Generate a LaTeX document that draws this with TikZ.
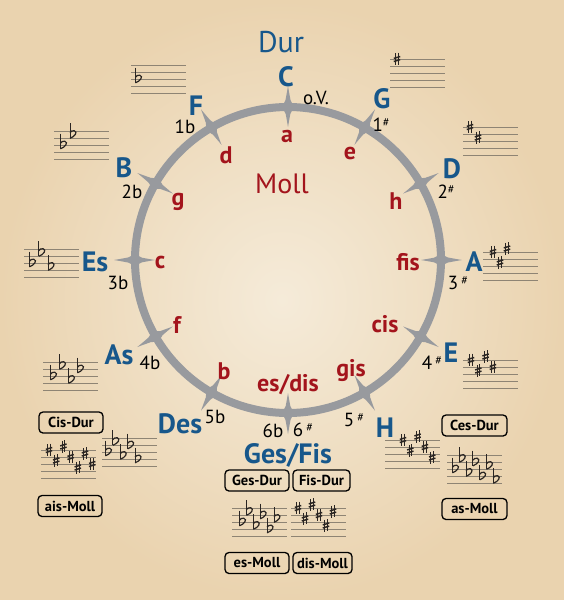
\documentclass[tikz,border=0pt]{standalone}
\usepackage{fontspec}
\setmainfont{PT Sans}
\definecolor{bgin}{HTML}{F5EBD9}
\definecolor{bgout}{HTML}{EAD3AF}
\definecolor{durc}{HTML}{17578B}
\definecolor{mollc}{HTML}{A3141C}
\definecolor{ringc}{HTML}{989A9E}
\definecolor{staffc}{HTML}{8E8474}
\definecolor{accc}{HTML}{2A2522}
\tikzset{
  durl/.style={text=durc, font=\bfseries\fontsize{28}{28}\selectfont, inner sep=0pt},
  molll/.style={text=mollc, font=\bfseries\fontsize{24}{24}\selectfont, inner sep=0pt},
  cnt/.style={text=black, font=\fontsize{19}{19}\selectfont, inner sep=0pt},
  keybox/.style={draw=black, rounded corners=4pt, line width=1.3pt, font=\bfseries\fontsize{14.5}{14.5}\selectfont, minimum height=21pt, inner sep=2pt},
  shp/.pic={\draw[accc,line width=0.75pt] (-1.4,-5.6)--(-1.4,6.3) (1.4,-6.3)--(1.4,5.6);
            \draw[accc,line width=1.5pt] (-3.2,-0.6)--(3.2,-2.5) (-3.2,2.5)--(3.2,0.6);},
  flt/.pic={\draw[accc,line width=0.9pt] (-2.5,-11.5)--(-2.5,3.8);
            \draw[accc,line width=1.2pt] (-2.5,3.8) .. controls (2.5,2) and (5.5,-2.4) .. (1.8,-3.8) .. controls (0,-4.4) and (-1.8,-3) .. (-2.5,-1.8);}
}
\newcommand\mystaff[2]{\foreach \i in {0,...,4} \draw[staffc, line width=0.8pt] (#1,#2+7*\i) -- ++(55,0);}
\newcommand\sharpkey[5]{\mystaff{#1}{#2}
  \foreach \s [count=\k] in {0,3,-1,2,5,1,4} {\ifnum\k>#3\relax\else \pic at ({#4+#5*(\k-1)},{#2+3.5*\s}) {shp};\fi}}
\newcommand\flatkey[5]{\mystaff{#1}{#2}
  \foreach \s [count=\k] in {4,1,5,2,6,3,7} {\ifnum\k>#3\relax\else \pic at ({#4+#5*(\k-1)},{#2+3.5*\s}) {flt};\fi}}
\newcommand\shx{\raisebox{5pt}{\fontsize{12}{12}\selectfont\#}}
\begin{document}
\begin{tikzpicture}[x=1pt,y=-1pt]
\useasboundingbox (0,0) rectangle (564,600);
\shade[inner color=bgin, outer color=bgout] (0,0) rectangle (564,600);
% ring
\draw[ringc, line width=8pt] (288,260) circle[radius=153];
\begin{scope}[shift={(288,260)}]
\foreach \t [evaluate=\t as \a using \t-90] in {0,30,...,330}
  \fill[ringc] (\a:133) -- (\a+0.35:138) -- (\a+0.9:146) -- (\a+2.2:153) -- (\a+0.9:160) -- (\a+0.35:168) -- (\a:174) -- (\a-0.35:168) -- (\a-0.9:160) -- (\a-2.2:153) -- (\a-0.9:146) -- (\a-0.35:138) -- cycle;
\end{scope}
% titles
\node[text=durc, font=\fontsize{30}{30}\selectfont, inner sep=0pt] (dur) at (281,42) {Dur};
\node[text=mollc, font=\fontsize{28}{28}\selectfont, inner sep=0pt] (moll) at (282,184) {Moll};
% major
\node[durl] (C) at (286,77) {C};
\node[durl] (G) at (382,99) {G};
\node[durl] (D) at (452,169) {D};
\node[durl] (A) at (474,262) {A};
\node[durl] (E) at (451,353) {E};
\node[durl] (H) at (385,428) {H};
\node[durl] (GesFis) at (288,455) {Ges/Fis};
\node[durl] (Des) at (180,424) {Des};
\node[durl] (As) at (119,355) {As};
\node[durl] (Es) at (95,262) {Es};
\node[durl] (B) at (124,168) {B};
\node[durl] (F) at (196,106) {F};
% minor
\node[molll] (ma) at (287,136) {a};
\node[molll] (me) at (350,153) {e};
\node[molll] (mh) at (396,201) {h};
\node[molll] (mfis) at (408,262) {fis};
\node[molll] (mcis) at (385,324) {cis};
\node[molll] (mgis) at (351,371) {gis};
\node[molll] (mesdis) at (288,385) {es/dis};
\node[molll] (mb) at (224,371) {b};
\node[molll] (mf) at (177,325) {f};
\node[molll] (mc) at (160,262) {c};
\node[molll] (mg) at (178,202) {g};
\node[molll] (md) at (226,155) {d};
% counts
\node[cnt] (ov) at (316,98) {o.V.};
\node[cnt] (s1) at (381,125) {1\shx};
\node[cnt] (s2) at (446,192) {2\shx};
\node[cnt] (s3) at (458,283) {3\,\shx};
\node[cnt] (s4) at (432,363) {4\,\shx};
\node[cnt] (s5) at (354,420) {5\,\shx};
\node[cnt] (s6) at (303,430) {6\,\shx};
\node[cnt] (f6) at (273,431) {6b};
\node[cnt] (f5) at (215,417) {5b};
\node[cnt] (f4) at (150,363) {4b};
\node[cnt] (f3) at (118,283) {3b};
\node[cnt] (f2) at (132,192) {2b};
\node[cnt] (f1) at (185,127) {1b};
% staves
\flatkey{131}{65}{1}{138}{8}
\flatkey{54}{131}{2}{63}{9.5}
\flatkey{24}{249}{3}{32}{9.3}
\flatkey{43}{362}{4}{53}{9}
\flatkey{102}{438}{5}{108}{7.4}
\flatkey{232}{508}{6}{242}{6.9}
\flatkey{447}{455}{7}{455}{6.8}
\sharpkey{390}{59}{1}{397}{7.5}
\sharpkey{463}{127}{2}{470}{8}
\sharpkey{483}{252}{3}{493}{7}
\sharpkey{463}{360}{4}{471}{7.3}
\sharpkey{385}{440}{5}{403}{7.3}
\sharpkey{291}{508}{6}{298}{7}
\sharpkey{41}{450}{7}{49}{7.2}
% boxes
\node[keybox, minimum width=64pt] (cisdur) at (71,422.5) {Cis-Dur};
\node[keybox, minimum width=64pt] (aismoll) at (70,506) {ais-Moll};
\node[keybox, minimum width=65pt] (cesdur) at (474.5,425.5) {Ces-Dur};
\node[keybox, minimum width=65pt] (asmoll) at (474.5,509) {as-Moll};
\node[keybox, minimum width=64pt] (gesdur) at (257,480.5) {Ges-Dur};
\node[keybox, minimum width=57pt] (fisdur) at (321.5,480.5) {Fis-Dur};
\node[keybox, minimum width=64pt] (esmoll) at (257,563) {es-Moll};
\node[keybox, minimum width=59pt] (dismoll) at (322.5,563) {dis-Moll};
\end{tikzpicture}
\end{document}
